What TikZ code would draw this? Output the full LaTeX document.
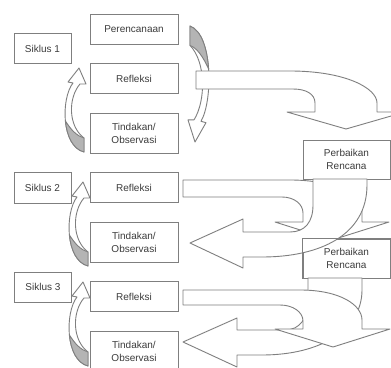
\documentclass[tikz,border=0pt]{standalone}
\usepackage{fontspec}
\setmainfont{Liberation Sans}
\usetikzlibrary{positioning}
\definecolor{linegray}{HTML}{7F7F7F}
\definecolor{shadegray}{HTML}{B4B4B4}
\definecolor{textgray}{HTML}{3C3C3C}
\tikzset{
  box/.style={draw=linegray, fill=white, line width=0.9pt, minimum width=88, minimum height=30, inner sep=1pt, align=center, text=textgray, font=\fontsize{10}{13}\selectfont},
  tag/.style={box, minimum width=57},
  block/.style={draw=linegray, fill=white, line width=0.9pt, line join=round},
  shade/.style={draw=linegray, fill=shadegray, line width=0.9pt, line join=round},
  turn/.pic={
    \path[block] (0,0) -- (7,16) -- (1,16) .. controls (-11,30) and (-11,58) .. (5,70) -- (5,84)
      .. controls (-18,78) and (-18,30) .. (-6,15) -- (-11,14) -- cycle;
    \path[shade] (5,84) .. controls (-6.5,81) and (-12.25,67.5) .. (-13.6,52.9)
      .. controls (-8,62) and (-2,68) .. (5,70) -- cycle;
  }
}

\begin{document}
\begin{tikzpicture}[x=1pt, y=-1pt, node distance=54.5]
  \clip (0,0) rectangle (391,367);
  \fill[white] (0,0) rectangle (391,367);

  % small turning arrows of the cycles
  \foreach \tx/\ty in {79/68, 83/182, 83/282}
    \pic at (\tx,\ty) {turn};
  \pic[rotate=180, yscale=1.38] at (195,142) {turn};

  % cycle 1
  \node[tag] (siklusA) at (42.5,48.5) {Siklus 1};
  \node[box] (plan) at (134,29) {Perencanaan};
  \node[box] (refA) [below of=plan, node distance=49.5] {Refleksi};
  \node[box, minimum height=40] (actA) [below of=refA] {Tindakan/\\Observasi};

  \path[block] (196,71) -- (290,71) .. controls (345,71) and (377,88) .. (377,103) -- (377,112)
    -- (405,112) -- (346,129) -- (287,112) -- (315,112) -- (315,103)
    .. controls (315,94) and (306,89) .. (293,89) -- (196,89) -- cycle;
  \node[box, minimum width=87, minimum height=39] (revA) at (346.5,159.5) {Perbaikan\\Rencana};

  % cycle 2
  \node[box] (refB) [below of=actA] {Refleksi};
  \node[tag, minimum height=31] (siklusB) [left of=refB, node distance=91.5] {Siklus 2};
  \node[box, minimum height=40] (actB) [below of=refB] {Tindakan/\\Observasi};

  \path[block] (183,180) -- (290,180) .. controls (335,180) and (362,195) .. (362,213) -- (362,222)
    -- (389,222) -- (332,240) -- (275,222) -- (303,222) -- (303,213)
    .. controls (303,204) and (294,197) .. (282,197) -- (183,197) -- cycle;
  \node[box, minimum width=87, minimum height=39] (revB) [below of=revA, node distance=99] {Perbaikan\\Rencana};
  \path[block] (313,179) -- (313,205) .. controls (313,222) and (305,232) .. (290,232) -- (243,232)
    -- (243,219) -- (190,243) -- (243,268) -- (243,257) -- (262,257)
    .. controls (320,257) and (367,235) .. (367,185) -- (367,179) -- cycle;
  \draw[linegray, line width=0.9pt] (revB.south west) rectangle (revB.north east);

  % cycle 3
  \node[box] (refC) [below of=actB] {Refleksi};
  \node[tag] (siklusC) at (43,287) {Siklus 3};
  \node[box, minimum height=40] (actC) [below of=refC] {Tindakan/\\Observasi};

  \path[block] (308,278) -- (308,300) .. controls (308,318) and (300,330) .. (285,330) -- (237,330)
    -- (237,318) -- (183,342) -- (237,367) -- (237,355) -- (262,355)
    .. controls (320,355) and (362,330) .. (362,290) -- (362,278) -- cycle;
  \path[block] (183,290) -- (300,290) .. controls (340,290) and (362,305) .. (362,320) -- (362,329)
    -- (390,329) -- (333,347) -- (275,329) -- (303,329) -- (303,321)
    .. controls (303,312) and (293,305) .. (280,305) -- (183,305) -- cycle;
\end{tikzpicture}
\end{document}
